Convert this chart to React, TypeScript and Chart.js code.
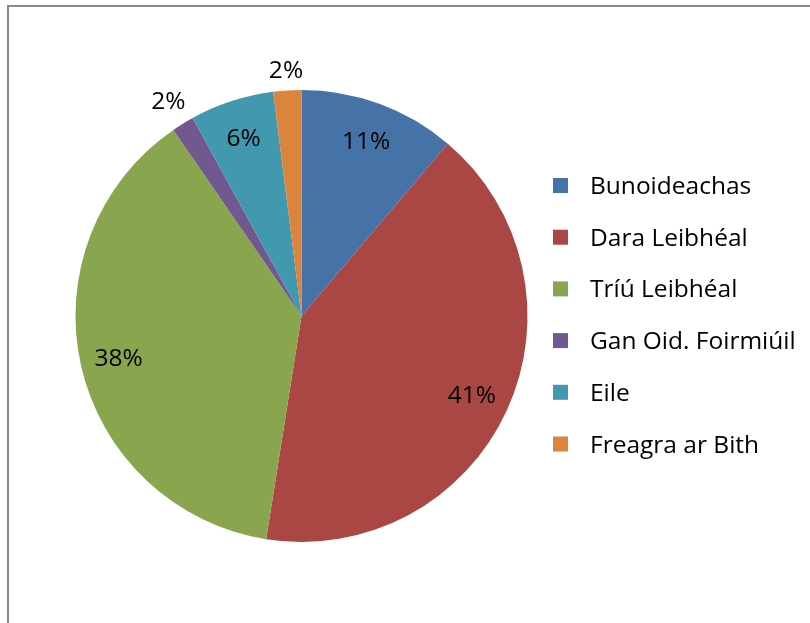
import React, { useEffect, useRef } from "react";
import { Chart, registerables } from "chart.js";

Chart.register(...registerables);

const categories = [
  "Bunoideachas",
  "Dara Leibhéal",
  "Tríú Leibhéal",
  "Gan Oid. Foirmiúil",
  "Eile",
  "Freagra ar Bith",
];
const values = [11.2, 41.3, 37.9, 1.6, 6.0, 2.0];
const colors = ["#4572A7", "#AA4643", "#89A54E", "#71588F", "#4198AF", "#DB843D"];

const FONT = "24.5px 'Open Sans'";

const labelPlugin = {
  id: "pctLabels",
  afterDatasetsDraw(chart: any) {
    const ctx = chart.ctx;
    const meta = chart.getDatasetMeta(0);
    const data = chart.data.datasets[0].data as number[];
    const total = data.reduce((a, b) => a + b, 0);
    ctx.save();
    ctx.font = FONT;
    ctx.fillStyle = "#000";
    ctx.textAlign = "center";
    ctx.textBaseline = "alphabetic";
    const cap = 17.5;
    meta.data.forEach((arc: any, i: number) => {
      const pct = (data[i] / total) * 100;
      const txt = Math.round(pct) + "%";
      const mid = (arc.startAngle + arc.endAngle) / 2;
      const w = ctx.measureText(txt).width;
      let r: number;
      if (pct < 3) {
        const ext = Math.abs(Math.cos(mid)) * (w / 2) + Math.abs(Math.sin(mid)) * (cap / 2 + 1);
        r = arc.outerRadius + 10 + ext;
      } else {
        r = arc.outerRadius * 0.83;
      }
      const x = arc.x + Math.cos(mid) * r;
      const y = arc.y + Math.sin(mid) * r;
      ctx.fillText(txt, x, y + cap / 2);
    });
    ctx.restore();
  },
};

const legendPlugin = {
  id: "sideLegend",
  afterDraw(chart: any) {
    const ctx = chart.ctx;
    const labels = chart.data.labels as string[];
    const bg = chart.data.datasets[0].backgroundColor as string[];
    const boxX = 553;
    const textX = 590;
    const firstBaseline = 194;
    const step = 51.7;
    const box = 15;
    ctx.save();
    ctx.font = FONT;
    ctx.textAlign = "left";
    ctx.textBaseline = "alphabetic";
    labels.forEach((lab, i) => {
      const base = firstBaseline + i * step;
      ctx.fillStyle = bg[i];
      ctx.fillRect(boxX, base - 16, box, box);
      ctx.fillStyle = "#000";
      ctx.fillText(lab, textX, base);
    });
    ctx.restore();
  },
};

export default function App() {
  const ref = useRef<HTMLCanvasElement>(null);
  useEffect(() => {
    if (!ref.current) return;
    const chart = new Chart(ref.current, {
      type: "pie",
      data: {
        labels: categories,
        datasets: [
          {
            data: values,
            backgroundColor: colors,
            borderWidth: 0,
            hoverOffset: 0,
            offset: 0,
          },
        ],
      },
      options: {
        animation: false,
        responsive: false,
        maintainAspectRatio: false,
        layout: { padding: { left: 75.5, right: 282.5, top: 90, bottom: 81 } },
        plugins: {
          legend: { display: false },
          tooltip: { enabled: false },
        },
      },
      plugins: [labelPlugin, legendPlugin],
    });
    return () => chart.destroy();
  }, []);
  return (
    <div style={{ position: "fixed", left: 0, top: 0, width: 810, height: 623, background: "#fff" }}>
      <div
        style={{
          position: "absolute",
          left: 7,
          top: 5,
          width: 810,
          height: 630,
          borderTop: "2px solid #8a8a8a",
          borderLeft: "2px solid #8a8a8a",
          boxSizing: "border-box",
        }}
      />
      <canvas ref={ref} width={810} height={623} style={{ position: "absolute", left: 0, top: 0 }} />
    </div>
  );
}
